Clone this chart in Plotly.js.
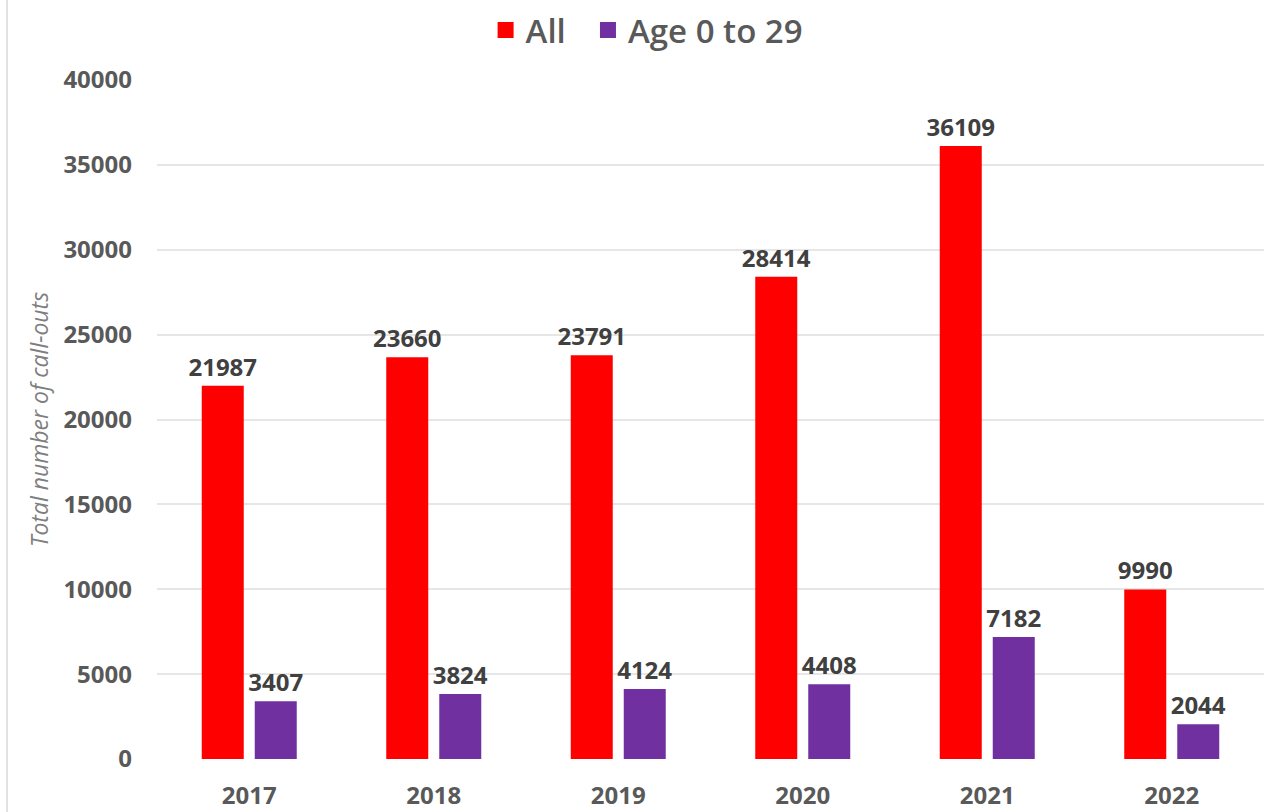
<!DOCTYPE html>
<html>
<head>
<meta charset="utf-8">
<script src="https://cdn.plot.ly/plotly-3.0.1.min.js"></script>
<style>
  html, body { margin: 0; padding: 0; background: #fff; }
  #divplot { width: 1273px; height: 812px; }
</style>
</head>
<body>
<div id="divplot"></div>
<script>
var years = ['2017', '2018', '2019', '2020', '2021', '2022'];
var allCalls = [21987, 23660, 23791, 28414, 36109, 9990];
var youngCalls = [3407, 3824, 4124, 4408, 7182, 2044];
var seriesNames = ['All', 'Age 0 to 29'];
var seriesColors = ['#ff0000', '#7030a0'];
var yTicks = [0, 5000, 10000, 15000, 20000, 25000, 30000, 35000, 40000];

var labelFont = {family: 'Open Sans, sans-serif', size: 24, color: '#404040', weight: 700};

function barTrace(vals, i) {
    return {
        x: years,
        y: vals,
        name: seriesNames[i],
        type: 'bar',
        marker: {color: seriesColors[i]},
        text: vals.map(String),
        textposition: 'outside',
        textfont: labelFont,
        constraintext: 'none',
        cliponaxis: false,
        showlegend: false,
        hoverinfo: 'x+y+name'
    };
}

// legend-only traces so the legend squares can be bigger
function legendTrace(i) {
    return {
        x: [null],
        y: [null],
        name: seriesNames[i] + '  ',
        type: 'scatter',
        mode: 'markers',
        marker: {symbol: 'square', size: 22, color: seriesColors[i]},
        hoverinfo: 'skip'
    };
}

var traceData = [barTrace(allCalls, 0), barTrace(youngCalls, 1), legendTrace(0), legendTrace(1)];

var layout = {
    width: 1273,
    height: 812,
    margin: {l: 157, r: 9, t: 80, b: 53, autoexpand: false},
    paper_bgcolor: '#ffffff',
    plot_bgcolor: '#ffffff',
    barmode: 'group',
    bargap: 0.4255,
    bargroupgap: 0.2075,
    showlegend: true,
    legend: {
        orientation: 'h',
        xref: 'container',
        yref: 'container',
        x: 0.515,
        xanchor: 'center',
        y: 0.963,
        yanchor: 'middle',
        font: {family: 'Open Sans, sans-serif', size: 33, color: '#595959', weight: 600},
        itemwidth: 30
    },
    xaxis: {
        type: 'category',
        showgrid: false,
        showline: false,
        zeroline: false,
        ticks: '',
        ticklabelstandoff: 20,
        tickfont: {family: 'Open Sans, sans-serif', size: 24, color: '#595959', weight: 700}
    },
    yaxis: {
        range: [0, 40000],
        tickvals: yTicks,
        tickformat: 'd',
        showgrid: true,
        gridcolor: '#e6e6e6',
        gridwidth: 1.5,
        zeroline: false,
        showline: false,
        ticks: '',
        ticklabelstandoff: 24,
        tickfont: {family: 'Open Sans, sans-serif', size: 24, color: '#595959', weight: 700},
        title: {
            text: 'Total number of call-outs',
            standoff: 8,
            font: {family: 'Open Sans, sans-serif', size: 23, color: '#7f7f7f', style: 'italic'}
        }
    },
    shapes: [{
        type: 'line',
        xref: 'paper',
        yref: 'paper',
        x0: -0.1355, x1: -0.1355,
        y0: -0.1, y1: 1.2,
        line: {color: '#d9d9d9', width: 1.5}
    }]
};

Plotly.newPlot('divplot', traceData, layout, {displayModeBar: false});
</script>
</body>
</html>
